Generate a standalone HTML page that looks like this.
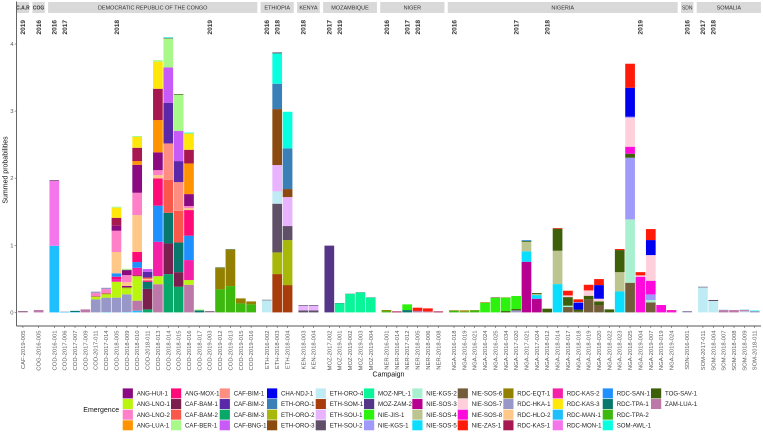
<!DOCTYPE html>
<html lang="en">
<head>
<meta charset="utf-8">
<title>Summed probabilities by campaign</title>
<style>
html,body{margin:0;padding:0;background:#fff;width:763px;height:433px;overflow:hidden}
svg{display:block;font-family:"Liberation Sans",sans-serif}
</style>
</head>
<body>
<svg id="chart" xmlns="http://www.w3.org/2000/svg" width="763" height="433" viewBox="0 0 763 433"></svg>
<script>
const panelNames = ["C.A.R","COG","DEMOCRATIC REPUBLIC OF THE CONGO","ETHIOPIA","KENYA","MOZAMBIQUE","NIGER","NIGERIA","SDN","SOMALIA"];
const panelBarCounts = [1,1,20,3,2,5,6,22,1,6];
const yTicks = [0,1,2,3,4];
const emergenceNames = ["ANG-HUI-1","ANG-LNO-1","ANG-LNO-2","ANG-LUA-1","ANG-MOX-1","CAF-BAM-1","CAF-BAM-2","CAF-BER-1","CAF-BIM-1","CAF-BIM-2","CAF-BIM-3","CAF-BNG-1","CHA-NDJ-1","ETH-ORO-1","ETH-ORO-2","ETH-ORO-3","ETH-ORO-4","ETH-SOM-1","ETH-SOU-1","ETH-SOU-2","MOZ-NPL-1","MOZ-ZAM-2","NIE-JIS-1","NIE-KGS-1","NIE-KGS-2","NIE-SOS-3","NIE-SOS-4","NIE-SOS-5","NIE-SOS-6","NIE-SOS-7","NIE-SOS-8","NIE-ZAS-1","RDC-EQT-1","RDC-HKA-1","RDC-HLO-2","RDC-KAS-1","RDC-KAS-2","RDC-KAS-3","RDC-MAN-1","RDC-MON-1","RDC-SAN-1","RDC-TPA-1","RDC-TPA-2","SOM-AWL-1","TOG-SAV-1","ZAM-LUA-1"];
const emergenceColors = ["#8B0A82","#B9F50E","#FF7FC9","#FF9300","#FF0A78","#7B1F4F","#F9584B","#A8F98A","#FF8E82","#5A28A8","#08A868","#C85AF8","#0000F0","#3A7FB8","#A8B80A","#8B4A10","#BFEBF5","#A83C0A","#E8B4FF","#5F5068","#0AF59A","#553588","#2DF20E","#A09AFA","#A8F0D0","#B80090","#BCC490","#0ADEFF","#735C3A","#FFD0DC","#FF0ADC","#FF1A0A","#948000","#9898C8","#FFC888","#A81850","#F520A8","#FFE70A","#1EBEFF","#F575EA","#1E90FF","#08786E","#3CB80E","#08FFE0","#3E5F0A","#BC78A8"];
const campaigns = ["CAF-2019-005","COG-2016-005",
"COD-2016-001","COD-2017-006","COD-2017-007","COD-2017-009","COD-2017-011","COD-2017-014","COD-2018-005","COD-2018-009","COD-2018-010","COD-2018-011","COD-2018-013","COD-2018-014","COD-2018-015","COD-2018-016","COD-2018-017","COD-2019-003","COD-2019-012","COD-2019-013","COD-2019-015","COD-2019-016",
"ETH-2016-002","ETH-2018-003","ETH-2018-004",
"KEN-2018-003","KEN-2018-004",
"MOZ-2017-002","MOZ-2019-001","MOZ-2019-002","MOZ-2019-003","MOZ-2019-004",
"NER-2016-001","NER-2016-014","NER-2017-012","NER-2018-005","NER-2018-006","NER-2018-008",
"NGA-2016-018","NGA-2016-019","NGA-2016-021","NGA-2016-024","NGA-2016-025","NGA-2016-034","NGA-2017-020","NGA-2017-021","NGA-2017-024","NGA-2018-012","NGA-2018-014","NGA-2018-017","NGA-2018-018","NGA-2018-019","NGA-2018-020","NGA-2018-022","NGA-2018-023","NGA-2018-025","NGA-2019-004","NGA-2019-007","NGA-2019-019","NGA-2019-024",
"SDN-2016-001",
"SOM-2017-011","SOM-2018-004","SOM-2018-007","SOM-2018-008","SOM-2018-009","SOM-2018-011"];
/* For each campaign, emergence groups listed from the bottom of the stack up */
const stackSeries = [
["ZAM-LUA-1","ETH-SOU-2"],
["ZAM-LUA-1"],
["RDC-MAN-1","RDC-MON-1","ETH-SOU-2"],
["RDC-MAN-1","RDC-HKA-1"],
["RDC-MAN-1","RDC-TPA-1"],
["ZAM-LUA-1"],
["RDC-HKA-1","ANG-LNO-1","RDC-EQT-1","ANG-LNO-2","RDC-HKA-1"],
["RDC-MAN-1","RDC-HKA-1","ANG-LNO-1","RDC-EQT-1","ANG-LNO-2","RDC-HKA-1"],
["RDC-HKA-1","ANG-LNO-1","RDC-KAS-2","ANG-MOX-1","RDC-SAN-1","RDC-HLO-2","ANG-LNO-2","ANG-HUI-1","RDC-KAS-1","RDC-KAS-3","CAF-BER-1"],
["RDC-MAN-1","RDC-HKA-1","ANG-LNO-1","RDC-EQT-1","ANG-HUI-1","RDC-HLO-2","ANG-LNO-2","ANG-HUI-1","ETH-SOU-2","CAF-BER-1"],
["RDC-MAN-1","ZAM-LUA-1","ANG-LNO-1","RDC-KAS-1","RDC-KAS-2","RDC-SAN-1","ANG-MOX-1","RDC-HLO-2","ANG-LNO-2","ANG-HUI-1","ANG-LUA-1","RDC-KAS-1","RDC-KAS-3","CAF-BER-1"],
["CAF-BIM-3","CAF-BAM-1","RDC-TPA-1","ANG-MOX-1","RDC-HLO-2","CAF-BAM-2","CAF-BIM-2","CAF-BNG-1"],
["ZAM-LUA-1","ANG-LNO-1","RDC-KAS-2","RDC-SAN-1","ANG-MOX-1","RDC-HLO-2","ANG-LNO-2","ANG-HUI-1","ANG-LUA-1","RDC-KAS-1","RDC-KAS-3","CAF-BER-1"],
["CAF-BIM-3","CAF-BAM-1","RDC-TPA-1","CAF-BAM-2","CAF-BIM-1","CAF-BIM-2","CAF-BNG-1","CAF-BER-1","ETH-SOU-2","SOM-AWL-1"],
["CAF-BIM-3","CAF-BAM-1","RDC-TPA-1","CAF-BAM-2","CAF-BIM-1","CAF-BIM-2","CAF-BNG-1","CAF-BER-1","TOG-SAV-1"],
["ZAM-LUA-1","ANG-LNO-1","RDC-KAS-2","RDC-SAN-1","ANG-MOX-1","RDC-HLO-2","ANG-LNO-2","ANG-HUI-1","ANG-LUA-1","RDC-KAS-1","RDC-KAS-3","SOM-AWL-1"],
["RDC-TPA-1","CAF-BER-1"],
["ZAM-LUA-1","ETH-SOU-2"],
["RDC-TPA-2","RDC-EQT-1","TOG-SAV-1"],
["RDC-TPA-2","RDC-EQT-1","TOG-SAV-1"],
["RDC-TPA-2","RDC-EQT-1"],
["RDC-TPA-2","RDC-EQT-1"],
["ETH-ORO-4","ETH-SOU-2"],
["ETH-SOM-1","ETH-ORO-2","ETH-SOU-2","ETH-ORO-4","ETH-SOU-1","ETH-ORO-3","ETH-ORO-1","SOM-AWL-1","ETH-SOU-2"],
["ETH-SOM-1","ETH-ORO-2","ETH-SOU-2","ETH-SOU-1","ETH-ORO-3","ETH-ORO-1","SOM-AWL-1"],
["ETH-SOU-2","ETH-SOU-1","ETH-SOU-2"],
["ETH-SOU-2","ETH-SOU-1","ETH-SOU-2"],
["MOZ-ZAM-2"],
["MOZ-NPL-1","RDC-TPA-1"],
["MOZ-NPL-1","RDC-TPA-1"],
["MOZ-NPL-1","RDC-TPA-1"],
["MOZ-NPL-1","RDC-TPA-1"],
["RDC-TPA-2","RDC-EQT-1"],
["RDC-KAS-1"],
["RDC-TPA-1","NIE-JIS-1"],
["ZAM-LUA-1","NIE-ZAS-1"],
["ZAM-LUA-1","NIE-ZAS-1"],
["RDC-KAS-1"],
["RDC-TPA-2","RDC-EQT-1"],
["RDC-TPA-2","RDC-EQT-1"],
["RDC-TPA-2","RDC-EQT-1"],
["NIE-JIS-1","RDC-EQT-1"],
["NIE-JIS-1","NIE-SOS-6"],
["TOG-SAV-1","NIE-JIS-1","RDC-EQT-1"],
["RDC-HKA-1","TOG-SAV-1","NIE-JIS-1"],
["NIE-SOS-3","NIE-SOS-5","NIE-SOS-4","TOG-SAV-1","RDC-SAN-1"],
["NIE-SOS-3","NIE-SOS-5","NIE-SOS-4","TOG-SAV-1"],
["TOG-SAV-1"],
["NIE-SOS-5","NIE-SOS-4","TOG-SAV-1","NIE-ZAS-1"],
["NIE-SOS-6","NIE-KGS-2","TOG-SAV-1","NIE-SOS-7","NIE-ZAS-1"],
["NIE-SOS-6","TOG-SAV-1","CHA-NDJ-1","NIE-SOS-7","NIE-ZAS-1"],
["NIE-SOS-6","TOG-SAV-1","NIE-SOS-7","NIE-ZAS-1"],
["NIE-SOS-6","TOG-SAV-1","NIE-SOS-7","CHA-NDJ-1","NIE-ZAS-1"],
["TOG-SAV-1"],
["NIE-SOS-5","NIE-SOS-4","TOG-SAV-1","NIE-ZAS-1"],
["NIE-SOS-6","NIE-KGS-2","NIE-KGS-1","TOG-SAV-1","NIE-SOS-8","NIE-SOS-7","NIE-KGS-1","CHA-NDJ-1","NIE-ZAS-1"],
["NIE-SOS-8","NIE-SOS-7","NIE-ZAS-1"],
["NIE-SOS-6","NIE-KGS-2","NIE-KGS-1","NIE-SOS-8","NIE-SOS-7","CHA-NDJ-1","NIE-ZAS-1"],
["NIE-SOS-8"],
["NIE-SOS-8","RDC-KAS-2"],
["RDC-HKA-1","ETH-SOU-2"],
["ETH-ORO-4","ETH-SOU-2"],
["ETH-ORO-4","ETH-SOU-2"],
["ZAM-LUA-1","ETH-ORO-4"],
["ZAM-LUA-1"],
["ETH-ORO-4","ZAM-LUA-1","ETH-ORO-4"],
["RDC-HKA-1","SOM-AWL-1"]
];
/* Segment heights, same order as stackSeries */
const stackValues = [
[.015,.006],
[.035],
[.993,.97,.01],
[.006,.006],
[.005,.018],
[.045],
[.195,.035,.01,.05,.02],
[.005,.215,.05,.012,.065,.02],
[.22,.237,.04,.035,.05,.318,.317,.075,.118,.15,.015],
[.005,.265,.09,.015,.02,.055,.105,.07,.01,.015],
[.025,.15,.365,.015,.11,.085,.15,.55,.333,.417,.055,.199,.16,.015],
[.045,.305,.105,.02,.025,.02,.085,.04],
[.42,.12,.513,.537,.407,.05,.073,.265,.481,.467,.403,.024],
[.57,.458,.457,.492,.541,.607,.525,.433,.01,.008],
[.382,.218,.443,.472,.427,.313,.448,.541,.01],
[.412,.07,.298,.363,.382,.03,.03,.178,.457,.204,.244,.012],
[.03,.015],
[.012,.008],
[.343,.317,.01],
[.392,.538,.01],
[.134,.075],
[.12,.044],
[.18,.008],
[.571,.323,.726,.183,.393,.834,.378,.452,.015],
[.407,.671,.209,.432,.119,.606,.546],
[.03,.07,.01],
[.03,.07,.01],
[.995],
[.135,.005],
[.273,.005],
[.295,.005],
[.219,.005],
[.02,.015],
[.015],
[.035,.085],
[.022,.048],
[.015,.045],
[.015],
[.025,.008],
[.01,.02],
[.03,.005],
[.14,.01],
[.215,.009],
[.02,.2,.005],
[.03,.02,.195],
[.755,.155,.143,.015,.01],
[.204,.054,.015,.015],
[.055],
[.422,.497,.328,.01],
[.08,.02,.128,.025,.07],
[.012,.03,.105,.008,.04],
[.194,.054,.08,.084],
[.11,.054,.04,.203,.09],
[.045],
[.313,.287,.329,.015],
[.442,.944,.919,.06,.104,.431,.016,.432,.358],
[.532,.02,.048],
[.149,.035,.084,.204,.382,.224,.164],
[.11],
[.02,.015],
[.015,.005],
[.373,.009],
[.17,.015],
[.035,.01],
[.035],
[.015,.02,.015],
[.02,.008]
];

const NS = "http://www.w3.org/2000/svg";
const svg = document.getElementById("chart");
const STEP = 10.36, PAD = 6.2, GAP = 3.3, LEFT = 16.7, BAR_W = 9.7;
const AXIS_X = 16.5, AXIS_Y = 326, Y0 = 312.4, Y_UNIT = 67.1;
const yScale = v => Y0 - Y_UNIT * v;

function node(tag, attrs, text) {
  const el = document.createElementNS(NS, tag);
  for (const k in attrs) el.setAttribute(k, attrs[k]);
  if (text !== undefined) el.textContent = text;
  svg.appendChild(el);
  return el;
}
function line(x1, y1, x2, y2, color, w) {
  return node("line", {x1, y1, x2, y2, stroke: color, "stroke-width": w});
}

/* panels: strips and bar centres */
const barCenters = [];
let cursor = LEFT, barIndex = 0;
panelNames.forEach((name, p) => {
  const n = panelBarCounts[p];
  const w = (n - 1) * STEP + 2 * PAD;
  const strip = node("rect", {x: cursor, y: 2, width: w, height: 11, fill: "#D9D9D9"});
  
  
  const label = node("text", {
    x: cursor + w / 2, y: 9.4, "text-anchor": "middle", fill: "#333",
    "font-size": name.length < 4 || name === "C.A.R" ? 5 : 5.5,
    "font-weight": name === "COG" || name === "C.A.R" ? "bold" : "normal"
  }, name);
  
  
  let lastYear = null;
  for (let i = 0; i < n; i++) {
    const cx = cursor + PAD + i * STEP;
    barCenters.push(cx);
    const year = campaigns[barIndex].split("-")[1];
    if (year !== lastYear) {
      const yl = node("text", {
        transform: "translate(" + (cx + 2.3) + ",34.6) rotate(-90)",
        "font-size": 6.6, "font-weight": "bold", fill: "#333"
      }, year);
      
      
      lastYear = year;
    }
    barIndex++;
  }
  cursor += w + GAP;
});

/* stacked bars */
campaigns.forEach((campaign, i) => {
  let base = 0;
  stackValues[i].forEach((v, j) => {
    const top = base + v;
    const color = emergenceColors[emergenceNames.indexOf(stackSeries[i][j])];
    const seg = node("rect", {
      x: barCenters[i] - BAR_W / 2, y: yScale(top),
      width: BAR_W, height: yScale(base) - yScale(top), fill: color
    });
    
    
    base = top;
  });
  const tick = line(barCenters[i], AXIS_Y, barCenters[i], AXIS_Y + 2, "#555", 0.6);
  
  
  const tl = node("text", {
    transform: "translate(" + (barCenters[i] + 2) + ",330.5) rotate(-90)",
    "font-size": 5.9, "text-anchor": "end", fill: "#5a5a5a"
  }, campaign);
  
  
});

/* axes */
const yAxis = line(AXIS_X, 1.5, AXIS_X, AXIS_Y, "#555", 0.9);


const xAxis = line(AXIS_X, AXIS_Y, 761, AXIS_Y, "#555", 0.9);


yTicks.forEach(t => {
  const tk = line(AXIS_X - 1.8, yScale(t), AXIS_X, yScale(t), "#555", 0.6);
  
  
  const lb = node("text", {x: 13.5, y: yScale(t) + 2, "font-size": 5.9, "text-anchor": "end", fill: "#5a5a5a"}, String(t));
  
  
});
const yTitle = node("text", {transform: "translate(7.5,170) rotate(-90)", "font-size": 7, "text-anchor": "middle", fill: "#111"}, "Summed probabilities");


const xTitle = node("text", {x: 388.5, y: 376.5, "font-size": 7, "text-anchor": "middle", fill: "#111"}, "Campaign");



/* legend */
const legendColumnX = [122.7,171,219.7,267,315.7,364,412.3,457.7,503.3,552.7,602.7,651];
const legendTitle = node("text", {x: 83.3, y: 412, "font-size": 7, fill: "#111"}, "Emergence");


emergenceNames.forEach((name, i) => {
  const col = Math.floor(i / 4), row = i % 4;
  const sx = legendColumnX[col], sy = 388.4 + row * 10.63;
  const sw = node("rect", {x: sx, y: sy, width: 10.2, height: 10, fill: emergenceColors[i]});
  
  
  const tx = node("text", {x: sx + 14, y: sy + 7.2, "font-size": 6.1, fill: "#222"}, name);
  
  
});
</script>
</body>
</html>
